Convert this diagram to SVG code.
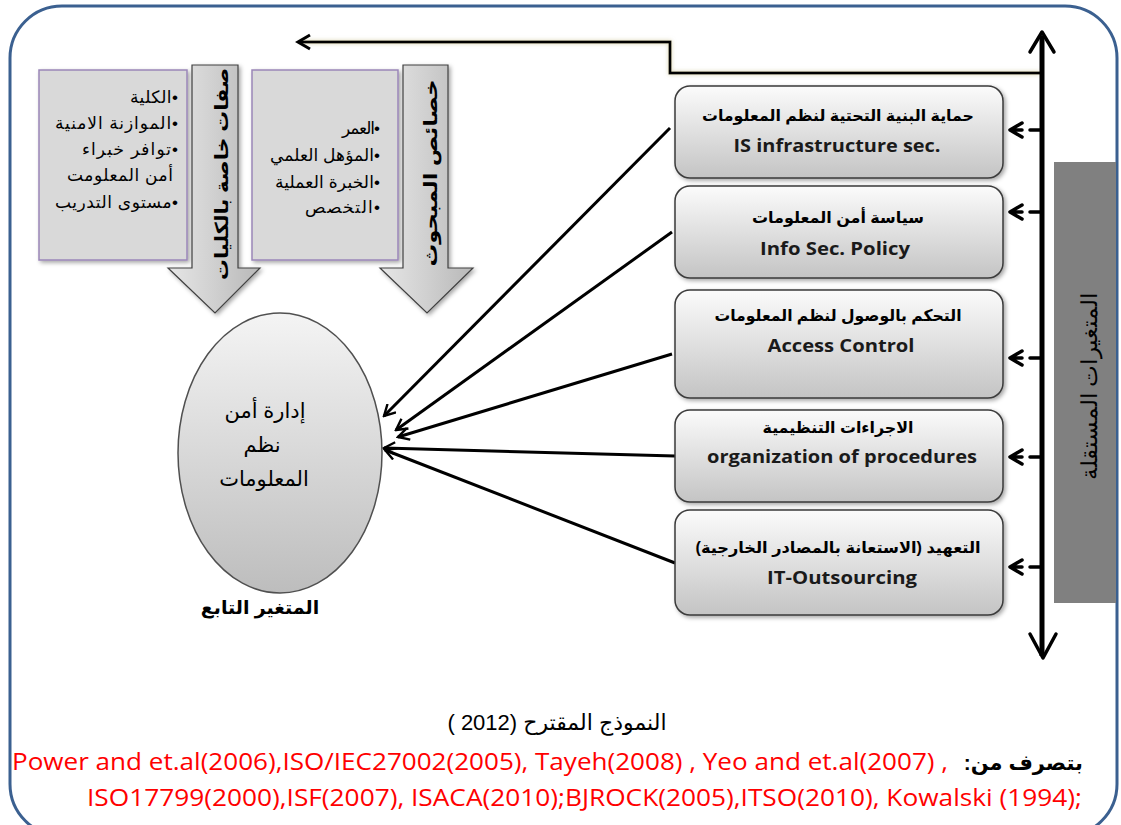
<svg xmlns="http://www.w3.org/2000/svg" width="1121" height="825" viewBox="0 0 1121 825">
<defs>
<style>
.ar{font-family:"Liberation Sans","DejaVu Sans",sans-serif;direction:rtl;fill:#000}
.arb{font-family:"Liberation Sans","DejaVu Sans",sans-serif;direction:rtl;font-weight:bold;fill:#000}
.en{font-family:"Open Sans","Noto Sans",sans-serif;font-weight:bold;fill:#1a1a1a;font-size:18px}
.red{font-family:"Open Sans","Liberation Sans",sans-serif;fill:#ff0000;font-size:23px}
.box{fill:url(#gBox);stroke:#3a3a3a;stroke-width:1.5}
.gbox{fill:#d9d9d9;stroke:#9a86b8;stroke-width:1.5}
.conn{fill:none;stroke:#000;stroke-width:3}
.sm{fill:none;stroke:#000;stroke-width:3.5;stroke-linecap:round;stroke-linejoin:round}
</style>
<linearGradient id="gBox" x1="0" y1="0" x2="0" y2="1">
<stop offset="0" stop-color="#fbfbfb"/><stop offset="1" stop-color="#c4c4c4"/>
</linearGradient>
<linearGradient id="gEll" x1="0" y1="0" x2="0" y2="1">
<stop offset="0" stop-color="#f4f4f4"/><stop offset="1" stop-color="#bdbdbd"/>
</linearGradient>
<linearGradient id="gArr" x1="0" y1="0" x2="1" y2="0">
<stop offset="0" stop-color="#e6e6e6"/><stop offset="0.5" stop-color="#d0d0d0"/><stop offset="1" stop-color="#b8b8b8"/>
</linearGradient>
<filter id="sh" x="-10%" y="-10%" width="130%" height="130%">
<feDropShadow dx="2" dy="2" stdDeviation="2" flood-color="#000" flood-opacity="0.35"/>
</filter>
<filter id="glow" x="-5%" y="-50%" width="110%" height="200%">
<feDropShadow dx="0" dy="0" stdDeviation="2" flood-color="#cfc79a" flood-opacity="0.8"/>
</filter>
<marker id="ah" viewBox="0 0 14 14" refX="12" refY="7" markerWidth="14" markerHeight="14" markerUnits="userSpaceOnUse" orient="auto">
<path d="M1,1 L12,7 L1,13" fill="none" stroke="#000" stroke-width="2.4"/>
</marker>
</defs>

<rect id="frame" x="10" y="6" width="1107" height="830" rx="52" fill="#fff" stroke="#3b6090" stroke-width="3"/>

<g id="connectors">
<polyline class="conn" filter="url(#glow)" points="1040,73 670,73 670,42 300,42"/>
<path class="conn" d="M310,35 L298,42 L310,49"/>
<line x1="1042" y1="36" x2="1042" y2="656" stroke="#000" stroke-width="5"/>
<path class="sm" stroke-width="5" d="M1030,52 L1042,32 L1054,52"/>
<path class="sm" stroke-width="5" d="M1030,634 L1043,658 L1056,634"/>
<g class="sm">
<path d="M1022,123 L1010,130 L1022,137 M1011,130 L1022,130 M1030,130 L1041,130"/>
<path d="M1022,205 L1010,212 L1022,219 M1011,212 L1022,212 M1030,212 L1041,212"/>
<path d="M1022,351 L1010,358 L1022,365 M1011,358 L1022,358 M1030,358 L1041,358"/>
<path d="M1022,450 L1010,457 L1022,464 M1011,457 L1022,457 M1030,457 L1041,457"/>
<path d="M1022,560 L1010,567 L1022,574 M1011,567 L1022,567 M1030,567 L1041,567"/>
</g>
<line class="conn" x1="670" y1="128" x2="384" y2="416" marker-end="url(#ah)"/>
<line class="conn" x1="672" y1="232" x2="396" y2="430" marker-end="url(#ah)"/>
<line class="conn" x1="672" y1="354" x2="398" y2="437" marker-end="url(#ah)"/>
<line class="conn" x1="675" y1="456" x2="384" y2="448" marker-end="url(#ah)"/>
<line class="conn" x1="675" y1="563" x2="385" y2="450" marker-end="url(#ah)"/>
</g>

<g id="indep-label">
<rect x="1054" y="162" width="62" height="441" fill="#808080"/>
<text style="font-family:'Liberation Serif','DejaVu Serif',serif;direction:rtl" font-size="22" text-anchor="middle" textLength="187" lengthAdjust="spacingAndGlyphs" transform="translate(1097,386) rotate(-90)">المتغيرات المستقلة</text>
</g>

<g id="box1">
<rect class="box" filter="url(#sh)" x="675" y="86" width="328" height="92" rx="15"/>
<text class="arb" x="838" y="121" font-size="16" text-anchor="middle" textLength="272" lengthAdjust="spacingAndGlyphs">حماية البنية التحتية لنظم المعلومات</text>
<text class="en" x="837" y="152" text-anchor="middle" textLength="207" lengthAdjust="spacingAndGlyphs">IS infrastructure sec.</text>
</g>
<g id="box2">
<rect class="box" filter="url(#sh)" x="675" y="186" width="328" height="92" rx="15"/>
<text class="arb" x="838" y="223" font-size="16" text-anchor="middle" textLength="172" lengthAdjust="spacingAndGlyphs">سياسة أمن المعلومات</text>
<text class="en" x="835" y="255" text-anchor="middle" textLength="150" lengthAdjust="spacingAndGlyphs">Info Sec. Policy</text>
</g>
<g id="box3">
<rect class="box" filter="url(#sh)" x="675" y="290" width="328" height="108" rx="15"/>
<text class="arb" x="838" y="321" font-size="16" text-anchor="middle" textLength="247" lengthAdjust="spacingAndGlyphs">التحكم بالوصول لنظم المعلومات</text>
<text class="en" x="841" y="352" text-anchor="middle" textLength="147" lengthAdjust="spacingAndGlyphs">Access Control</text>
</g>
<g id="box4">
<rect class="box" filter="url(#sh)" x="675" y="410" width="328" height="92" rx="15"/>
<text class="arb" x="838" y="433" font-size="16" text-anchor="middle" textLength="151" lengthAdjust="spacingAndGlyphs">الاجراءات التنظيمية</text>
<text class="en" x="842" y="463" text-anchor="middle" textLength="270" lengthAdjust="spacingAndGlyphs">organization of procedures</text>
</g>
<g id="box5">
<rect class="box" filter="url(#sh)" x="675" y="510" width="328" height="105" rx="15"/>
<text class="arb" x="838" y="553" font-size="16" text-anchor="middle" textLength="285" lengthAdjust="spacingAndGlyphs">التعهيد (الاستعانة بالمصادر الخارجية)</text>
<text class="en" x="842" y="584" text-anchor="middle" textLength="150" lengthAdjust="spacingAndGlyphs">IT-Outsourcing</text>
</g>

<g id="dependent">
<ellipse cx="280" cy="453" rx="102" ry="140" fill="url(#gEll)" stroke="#505050" stroke-width="1.5"/>
<text class="ar" x="265" y="418" font-size="21" text-anchor="middle">إدارة أمن</text>
<text class="ar" x="262" y="452" font-size="21" text-anchor="middle">نظم</text>
<text class="ar" x="264" y="486" font-size="21" text-anchor="middle">المعلومات</text>
<text class="arb" x="260" y="614" font-size="19" text-anchor="middle">المتغير التابع</text>
</g>

<g id="colleges">
<rect class="gbox" filter="url(#sh)" x="39" y="70" width="148" height="190"/>
<g class="ar" font-size="17" text-anchor="start" lengthAdjust="spacingAndGlyphs">
<text x="178" y="103" textLength="48">•الكلية</text>
<text x="178" y="129" textLength="123">•الموازنة الامنية</text>
<text x="178" y="155" textLength="96">•توافر خبراء</text>
<text x="173" y="181" textLength="106">أمن المعلومت</text>
<text x="178" y="208" textLength="123">•مستوى التدريب</text>
</g>
<path filter="url(#sh)" d="M192,65 L238,65 L238,268 L260,268 L215,313 L168,268 L192,268 Z" fill="url(#gArr)" stroke="#404040" stroke-width="1.2"/>
<text class="arb" font-size="18" text-anchor="middle" textLength="212" lengthAdjust="spacingAndGlyphs" transform="translate(228,174) rotate(-90)">صفات خاصة بالكليات</text>
</g>

<g id="respondent">
<rect class="gbox" filter="url(#sh)" x="252" y="70" width="146" height="190"/>
<g class="ar" font-size="17" text-anchor="start" lengthAdjust="spacingAndGlyphs">
<text x="380" y="134" textLength="38">•العمر</text>
<text x="380" y="161" textLength="110">•المؤهل العلمي</text>
<text x="380" y="188" textLength="105">•الخبرة العملية</text>
<text x="380" y="213" textLength="75">•التخصص</text>
</g>
<path filter="url(#sh)" d="M403,65 L448,65 L448,268 L473,268 L427,313 L380,268 L403,268 Z" fill="url(#gArr)" stroke="#404040" stroke-width="1.2"/>
<text class="arb" font-size="18" text-anchor="middle" textLength="187" lengthAdjust="spacingAndGlyphs" transform="translate(437,173) rotate(-90)">خصائص المبحوث</text>
</g>

<g id="caption">
<text class="ar" x="557" y="730" font-size="22" text-anchor="middle">النموذج المقترح (2012 )</text>
<text class="red" x="12" y="770" textLength="936" lengthAdjust="spacingAndGlyphs">Power and et.al(2006),ISO/IEC27002(2005),   Tayeh(2008) , Yeo and et.al(2007) ,</text>
<text class="arb" x="1083" y="770" font-size="21" text-anchor="start">بتصرف من:</text>
<text class="red" x="87" y="806" textLength="995" lengthAdjust="spacingAndGlyphs">ISO17799(2000),ISF(2007),  ISACA(2010);BJROCK(2005),ITSO(2010), Kowalski (1994);</text>
</g>
</svg>
